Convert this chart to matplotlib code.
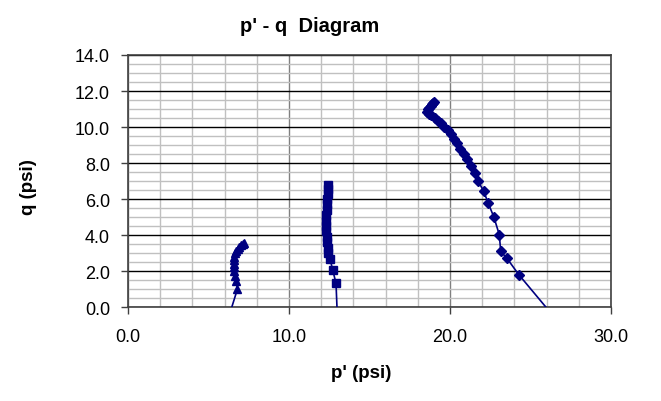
import matplotlib
matplotlib.use("Agg")
import matplotlib.pyplot as plt
import numpy as np

plt.rcParams['font.family'] = ['Liberation Sans', 'DejaVu Sans']

# stress paths (p', q) in psi
p_tri = [6.45, 6.80, 6.72, 6.66, 6.61, 6.58, 6.57, 6.58, 6.61, 6.66, 6.73, 6.82, 6.92, 7.02, 7.12, 7.20]
q_tri = [0.00, 1.00, 1.45, 1.75, 2.00, 2.20, 2.40, 2.60, 2.80, 2.98, 3.12, 3.25, 3.35, 3.45, 3.52, 3.58]

p_sq = [12.98, 12.92, 12.71, 12.55, 12.45, 12.40, 12.36, 12.33, 12.31, 12.30, 12.30, 12.31, 12.33, 12.35, 12.38, 12.41, 12.43, 12.45]
q_sq = [0.00, 1.32, 2.07, 2.67, 3.00, 3.30, 3.60, 3.90, 4.20, 4.50, 4.80, 5.10, 5.40, 5.70, 6.00, 6.30, 6.55, 6.80]

p_dia = [25.95, 24.27, 23.54, 23.15, 23.06, 22.73, 22.38, 22.09, 21.76, 21.53, 21.28, 21.03,
         20.85, 20.65, 20.45, 20.25, 20.05, 19.85, 19.65, 19.45, 19.25, 19.05, 18.85, 18.70,
         18.58, 18.62, 18.72, 18.82, 18.90, 18.97, 19.00]
q_dia = [0.00, 1.80, 2.70, 3.09, 4.02, 4.98, 5.76, 6.43, 6.98, 7.46, 7.82, 8.22,
         8.50, 8.80, 9.10, 9.35, 9.60, 9.82, 10.00, 10.20, 10.35, 10.50, 10.65, 10.75,
         10.85, 10.98, 11.08, 11.18, 11.26, 11.33, 11.38]

x_major = [0, 10, 20, 30]
y_major = np.arange(0, 14.1, 2)

fig = plt.figure(figsize=(6.61, 4.02), dpi=100)
ax = fig.add_axes([0.1936, 0.2338, 0.7308, 0.6269])

navy = '#000080'
for p, q, mk, ms in [(p_tri, q_tri, '^', 6), (p_sq, q_sq, 's', 6), (p_dia, q_dia, 'D', 5)]:
    ax.plot(p, q, color=navy, lw=1.2, marker=mk, ms=ms, mfc=navy, mec=navy,
            markevery=list(range(1, len(p))), zorder=5)

ax.set_xlim(0, 30)
ax.set_ylim(0, 14)
ax.set_xticks(x_major)
ax.set_yticks(y_major)
ax.set_xticks(np.arange(0, 30.1, 2), minor=True)
ax.set_yticks(np.arange(0, 14.1, 0.5), minor=True)
ax.set_xticklabels([f"{v:.1f}" for v in x_major])
ax.set_yticklabels([f"{v:.1f}" for v in y_major])

ax.grid(which='minor', axis='both', color='#c0c0c0', lw=1.0, zorder=0)
ax.grid(which='major', axis='x', color='#808080', lw=1.0, zorder=1)
ax.grid(which='major', axis='y', color='black', lw=1.0, zorder=1)
ax.set_axisbelow(True)

ax.tick_params(which='minor', length=0)
ax.tick_params(which='major', length=5, width=1, color='#404040', labelsize=13, direction='out')
ax.tick_params(axis='x', pad=10)
ax.tick_params(axis='y', pad=8)
for s in ax.spines.values():
    s.set_color('#404040')
    s.set_linewidth(1.2)

fig.text(0.469, 0.933, "p' - q  Diagram", fontsize=14.5, fontweight='bold', ha='center', va='center')
fig.text(0.546, 0.072, "p' (psi)", fontsize=13.5, fontweight='bold', ha='center', va='center')
fig.text(0.043, 0.535, "q (psi)", fontsize=13.5, fontweight='bold', ha='center', va='center', rotation=90)

fig.savefig('out.png', dpi=100)
